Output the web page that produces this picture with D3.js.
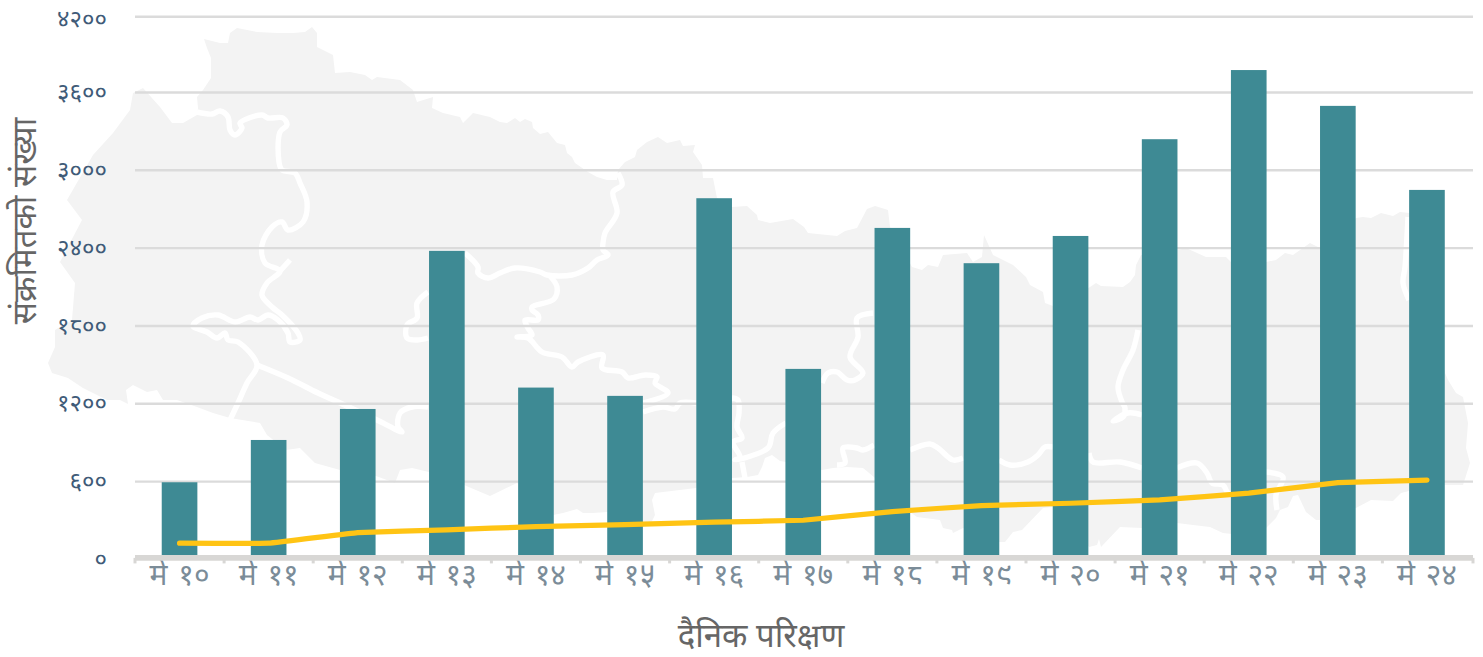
<!DOCTYPE html>
<html lang="ne">
<head>
<meta charset="UTF-8">
<title>दैनिक परिक्षण</title>
<script src="https://d3js.org/d3.v7.min.js"></script>
<style>
html, body { margin: 0; background: #fff; }
svg { display: block; }
text { font-family: "Noto Sans", sans-serif; }
.y-axis text { font-size: 24px; fill: #3f5b78; }
.x-axis text { font-size: 30px; fill: #7b8c98; word-spacing: 3px; }
.title { font-size: 33px; fill: #666; }
</style>
</head>
<body>
<svg id="chart" width="1483" height="657"></svg>
<script>
// values
var days = ["मे १०", "मे ११", "मे १२", "मे १३", "मे १४", "मे १५", "मे १६", "मे १७", "मे १८", "मे १९", "मे २०", "मे २१", "मे २२", "मे २३", "मे २४"];
var tests = [591, 917, 1156, 2375, 1321, 1257, 2781, 1465, 2552, 2280, 2490, 3236, 3774, 3493, 2845];
var infected = [121, 121, 203, 224, 249, 264, 283, 298, 365, 411, 429, 455, 507, 588, 607];
var yTicks = [0, 600, 1200, 1800, 2400, 3000, 3600, 4200];
var yTickLabels = ["०", "६००", "१२००", "१८००", "२४००", "३०००", "३६००", "४२००"];
var yTitle = "संक्रमितको संख्या";
var xTitle = "दैनिक परिक्षण";

// background map, traced in page pixels
var mapOutline = [[133,93],[143,88],[160,107],[172,123],[183,123],[197,115],[198,108],[197,97],[203,90],[211,78],[211,58],[207,48],[204,39],[220,43],[228,43],[230,33],[237,28],[257,32],[277,33],[293,33],[305,32],[312,27],[317,33],[317,47],[333,55],[335,73],[350,72],[365,75],[372,80],[377,77],[400,80],[413,90],[417,102],[433,97],[432,108],[443,113],[460,117],[463,123],[473,113],[490,117],[500,122],[507,123],[515,118],[520,122],[525,119],[532,122],[533,128],[540,134],[548,132],[557,143],[565,145],[567,153],[572,157],[575,163],[588,172],[597,177],[607,180],[617,180],[618,170],[625,162],[635,157],[637,150],[647,142],[658,137],[667,143],[680,140],[683,146],[695,145],[693,152],[702,165],[703,178],[713,178],[717,198],[732,207],[747,206],[757,215],[758,220],[770,223],[793,219],[804,227],[808,233],[837,236],[845,231],[857,228],[867,209],[875,206],[888,210],[890,227],[912,267],[922,270],[928,265],[938,267],[943,255],[967,253],[973,262],[982,257],[984,235],[993,255],[1013,265],[1026,277],[1030,285],[1043,292],[1045,303],[1053,306],[1090,287],[1096,283],[1101,286],[1123,287],[1130,282],[1135,275],[1136,265],[1141,255],[1178,250],[1186,248],[1206,257],[1226,257],[1232,263],[1266,262],[1276,260],[1285,253],[1293,255],[1310,243],[1320,248],[1356,218],[1363,217],[1371,218],[1381,213],[1393,216],[1400,212],[1410,213],[1445,373],[1448,380],[1456,393],[1463,397],[1468,423],[1466,448],[1470,463],[1463,485],[1445,485],[1409,491],[1401,493],[1393,501],[1371,500],[1356,508],[1320,520],[1316,520],[1306,512],[1298,495],[1293,496],[1288,507],[1280,510],[1276,518],[1266,528],[1232,534],[1223,533],[1210,527],[1193,525],[1177,523],[1142,528],[1120,527],[1101,547],[1099,539],[1097,545],[1089,547],[1053,507],[1043,508],[1022,530],[1013,532],[1005,542],[999,542],[963,528],[953,533],[952,530],[943,528],[940,520],[917,517],[910,512],[874,477],[863,468],[847,467],[833,468],[822,470],[786,462],[780,461],[772,455],[765,458],[762,467],[758,475],[747,477],[732,478],[696,488],[655,493],[652,500],[655,515],[650,525],[643,527],[607,512],[593,513],[583,513],[577,509],[563,513],[553,515],[517,483],[490,496],[464,485],[429,472],[412,468],[400,470],[395,483],[376,476],[340,470],[315,463],[300,448],[286,450],[267,435],[260,423],[230,418],[213,413],[197,407],[177,400],[163,400],[157,390],[147,392],[133,385],[126,390],[128,404],[120,400],[107,400],[83,388],[68,378],[52,373],[48,363],[55,347],[55,330],[72,320],[75,283],[60,262],[82,220],[67,200],[93,155],[113,133],[130,110]];
var mapRivers = [
  [[197,112],[212,114],[220,111],[228,117],[230,130],[235,135],[242,128],[240,123],[262,115],[268,118],[283,118],[287,125],[280,132],[279,162],[282,170],[295,173],[300,183],[307,202],[303,222],[288,230],[282,222],[272,227],[262,245],[265,263],[280,271],[267,283],[262,295],[272,307],[282,315],[298,333],[300,340],[290,342],[288,333],[278,320],[268,315],[258,320],[250,317],[235,322],[218,315],[202,318],[193,326],[207,332],[217,338],[225,333],[228,340],[238,342],[257,365],[247,383],[238,403],[230,420]],
  [[280,271],[290,260]],
  [[257,365],[288,378],[318,393],[338,402],[377,420],[402,432],[398,427],[400,413],[412,407],[428,407]],
  [[428,292],[417,303],[417,318],[407,325],[407,338],[417,340],[428,338]],
  [[465,253],[478,267],[478,273],[488,278],[500,273],[515,268],[540,272],[547,275],[572,275],[588,268],[597,260],[608,255],[603,250],[603,243],[605,233],[617,213],[613,192],[622,185],[618,173]],
  [[550,276],[557,287],[554,299],[532,307],[532,310],[538,315],[538,320],[525,320],[528,328],[532,335],[517,337],[528,338],[542,352],[562,357],[572,367],[578,362],[603,355],[602,368],[622,372],[628,378],[645,375],[657,377],[655,383],[668,393],[643,403]],
  [[643,412],[663,407],[675,409],[680,403],[696,403]],
  [[732,398],[738,400],[739,413],[737,427],[742,438],[733,442],[740,457],[735,460],[768,448],[773,433],[786,423]],
  [[742,462],[745,478]],
  [[822,383],[828,373],[837,372],[847,380],[855,380],[863,373],[850,357],[858,337],[857,318],[873,313]],
  [[837,465],[845,463],[843,448],[857,448],[863,450],[874,445]],
  [[910,450],[930,444],[938,448],[953,460],[963,458]],
  [[999,460],[1010,465],[1028,462],[1038,455],[1045,447],[1053,447]],
  [[1089,453],[1093,462],[1120,462],[1142,468]],
  [[1177,468],[1197,463],[1207,473],[1212,483],[1223,485],[1228,493],[1232,493]],
  [[1266,472],[1283,477],[1276,495],[1277,510]],
  [[1138,330],[1133,350],[1123,370],[1118,387],[1122,402],[1125,408],[1123,417],[1113,421],[1128,413],[1142,415]],
  [[1408,217],[1405,267],[1403,283],[1409,300]]
];

var svg = d3.select("#chart");

var x = d3.scaleBand().domain(days).range([135, 1471.5]).paddingInner(0.6).paddingOuter(0.3);
var y = d3.scaleLinear().domain([0, 3600, 4200]).range([558.9, 92, 16.3]);

// map goes first, everything else sits on it
var outlineLine = d3.line();
var riverLine = d3.line().curve(d3.curveCatmullRom.alpha(0.5));
var map = svg.append("g");
map.append("path").attr("d", outlineLine(mapOutline)).attr("fill", "#f3f3f3");
map.selectAll(".river")
    .data(mapRivers)
    .enter()
    .append("path")
    .attr("class", "river")
    .attr("d", riverLine)
    .attr("fill", "none")
    .attr("stroke", "#fff")
    .attr("stroke-width", 5.4)
    .attr("stroke-linejoin", "round");

// y axis carries the gridlines
var yAxis = d3.axisLeft(y)
    .tickValues(yTicks)
    .tickSize(-1338)
    .tickPadding(28)
    .tickFormat(function (d, i) { return yTickLabels[i]; });
var yG = svg.append("g").attr("class", "y-axis").attr("transform", "translate(135,0)").call(yAxis);
yG.select(".domain").remove();
yG.selectAll("line").attr("stroke", "#dbdbdb").attr("stroke-width", 2.4);
yG.selectAll(".tick").filter(function (d) { return d === 0; }).select("line").remove();
// top label would poke out of the page otherwise
yG.selectAll(".tick").filter(function (d) { return d === 4200; }).select("text").attr("dy", "0.42em");

svg.append("g").selectAll("rect")
    .data(tests)
    .enter()
    .append("rect")
    .attr("x", function (d, i) { return x(days[i]); })
    .attr("y", function (d) { return y(d); })
    .attr("width", x.bandwidth())
    .attr("height", function (d) { return y(0) - y(d); })
    .attr("fill", "#3e8a94");

// x axis, ticks fall between the bands
var xAxis = d3.axisBottom(x).tickSize(0).tickPadding(6);
var xG = svg.append("g").attr("class", "x-axis").attr("transform", "translate(0," + (y(0) - 1) + ")").call(xAxis);
xG.select(".domain").remove();
xG.append("line")
    .attr("x1", 135)
    .attr("x2", 1473)
    .attr("stroke", "#d8d7d5")
    .attr("stroke-width", 5.6);
var edges = days.map(function (d) { return x(d) - x.step() * 0.3; }).concat([1473]);
xG.selectAll(".edge")
    .data(edges)
    .enter()
    .append("line")
    .attr("class", "edge")
    .attr("x1", function (d) { return d; })
    .attr("x2", function (d) { return d; })
    .attr("y1", 0)
    .attr("y2", 5.5)
    .attr("stroke", "#d8d7d5")
    .attr("stroke-width", 3);

var line = d3.line()
    .x(function (d, i) { return x(days[i]) + x.bandwidth() / 2; })
    .y(function (d) { return y(d); })
    .curve(d3.curveCardinal.tension(0.8));
svg.append("path")
    .attr("d", line(infected))
    .attr("fill", "none")
    .attr("stroke", "#ffc414")
    .attr("stroke-width", 5.2)
    .attr("stroke-linecap", "round");

svg.append("text")
    .attr("class", "title")
    .attr("transform", "translate(35.5,221) rotate(-90)")
    .attr("text-anchor", "middle")
    .text(yTitle);
svg.append("text")
    .attr("class", "title")
    .attr("x", 761)
    .attr("y", 647)
    .attr("text-anchor", "middle")
    .text(xTitle);
</script>
</body>
</html>
